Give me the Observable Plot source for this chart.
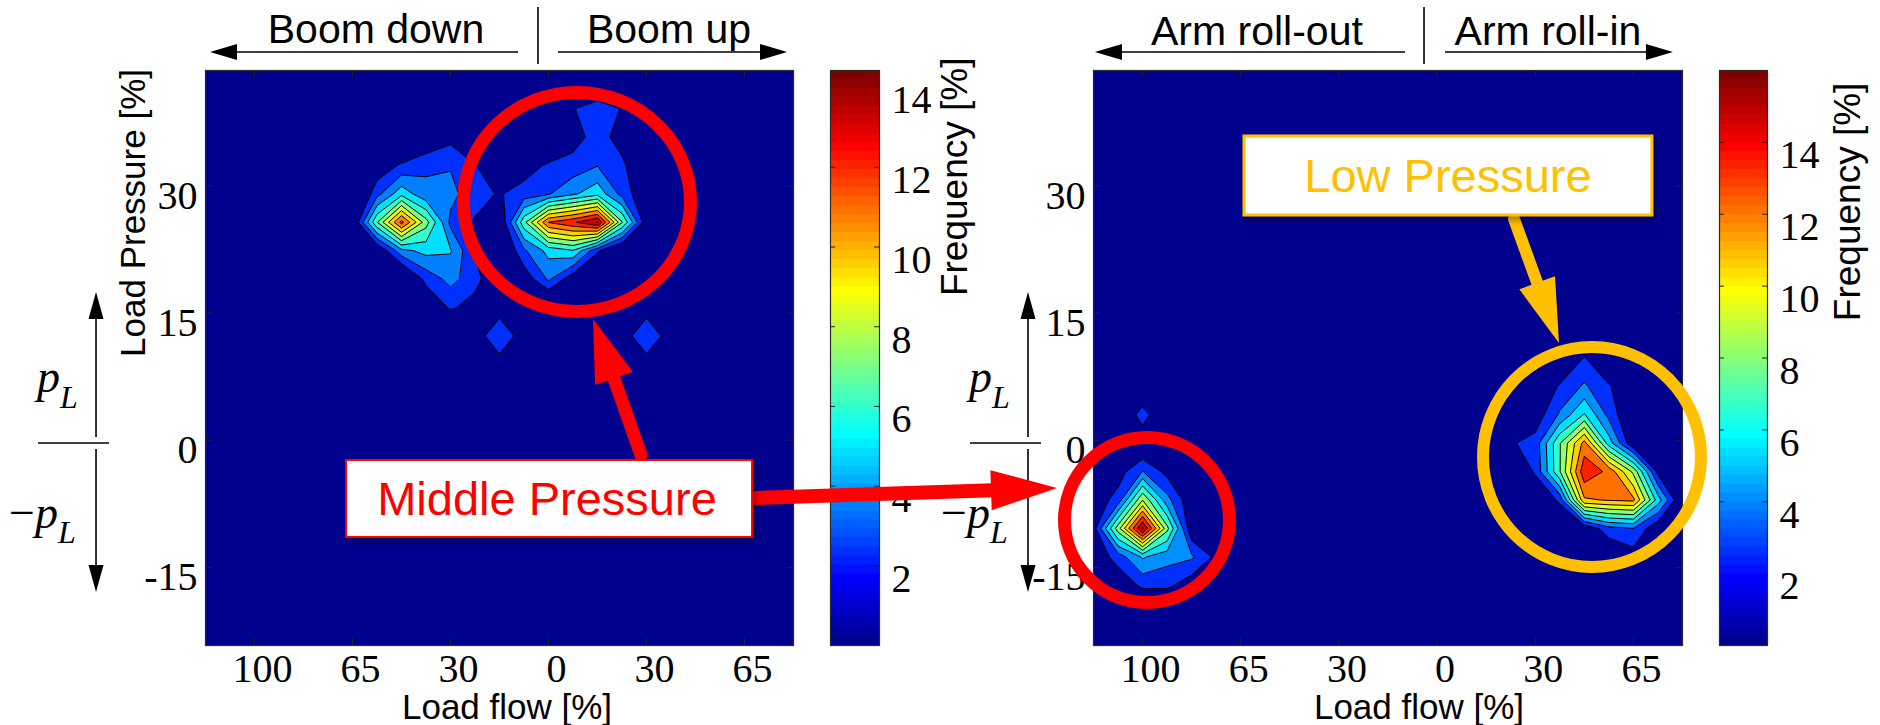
<!DOCTYPE html>
<html>
<head>
<meta charset="utf-8">
<script src="https://cdn.jsdelivr.net/npm/d3@7"></script>
<script src="https://cdn.jsdelivr.net/npm/@observablehq/plot@0.6"></script>
<style>
html, body { margin: 0; padding: 0; background: #ffffff; }
#fig { position: relative; width: 1880px; height: 725px; overflow: hidden; background: #ffffff; }
#fig svg text.tick-serif { font-family: 'Liberation Serif', 'DejaVu Serif', serif !important; }
#fig svg g[aria-label$="tick label"] text { font-family: 'Liberation Serif', 'DejaVu Serif', serif !important; }
</style>
</head>
<body>
<div id="fig"></div>
<script>
// ---------------- data ----------------
const xTickPos = [-3, -2, -1, 0, 1, 2];
const xTickLabels = ["100", "65", "30", "0", "30", "65"];
const yTicks = [30, 15, 0, -15];
const cbTicks = [2, 4, 6, 8, 10, 12, 14];
const xDomain = [-3.5, 2.5];
const yDomain = [-24.2, 43.6];

const leftLevels = [0, 2.4, 3.6, 4.8, 6.0, 7.2, 8.4, 9.6, 10.8, 12.0, 13.2, 14.4];
const rightLevels = [0, 2.67, 4.0, 5.33, 6.67, 8.0, 9.33, 10.67, 12.0, 13.33, 14.67, 16.0];
const leftMax = 14.43;
const rightMax = 16;

const leftGrid = {x0: -3.5, dx: 0.25, nx: 25, y0: 45.8, dy: 3.35, ny: 23};
const rightGrid = {x0: -3.5, dx: 0.25, nx: 25, y0: 46.55, dy: 3.35, ny: 23};

// [load flow, load pressure, frequency %] — grid nodes above zero (boom)
const leftNodes = [
  [0.25, 39.1, 2.3], [0.5, 39.1, 3.33], [0.75, 39.1, 2.3],
  [-1.25, 35.75, 1.0], [-1.0, 35.75, 2.0], [-0.75, 35.75, 1.0], [0, 35.75, 0.5], [0.25, 35.75, 1.8], [0.5, 35.75, 3.0], [0.75, 35.75, 1.8],
  [-1.75, 32.4, 1.5], [-1.5, 32.4, 2.6], [-1.25, 32.4, 3.4], [-1.0, 32.4, 3.5], [-0.75, 32.4, 2.45], [-0.5, 32.4, 1.5], [-0.25, 32.4, 1.8], [0, 32.4, 2.6], [0.25, 32.4, 2.9], [0.5, 32.4, 3.55], [0.75, 32.4, 2.7], [1.0, 32.4, 0.8],
  [-1.75, 29.05, 3.2], [-1.5, 29.05, 5.6], [-1.25, 29.05, 3.9], [-1.0, 29.05, 4.0], [-0.75, 29.05, 2.8], [-0.5, 29.05, 2.3], [-0.25, 29.05, 2.9], [0, 29.05, 3.5], [0.25, 29.05, 4.6], [0.5, 29.05, 5.6], [0.75, 29.05, 3.2], [1.0, 29.05, 1.2],
  [-2.0, 25.7, 0.9], [-1.75, 25.7, 7.1], [-1.5, 25.7, 12.4], [-1.25, 25.7, 7.7], [-1.0, 25.7, 3.3], [-0.75, 25.7, 2.3], [-0.5, 25.7, 1.0], [-0.25, 25.7, 6.8], [0, 25.7, 12.05], [0.25, 25.7, 13.0], [0.5, 25.7, 14.5], [0.75, 25.7, 7.3], [1.0, 25.7, 1.4],
  [-1.75, 22.35, 1.0], [-1.5, 22.35, 4.4], [-1.25, 22.35, 5.2], [-1.0, 22.35, 4.9], [-0.75, 22.35, 2.3], [-0.5, 22.35, 0.5], [-0.25, 22.35, 3.4], [0, 22.35, 5.2], [0.25, 22.35, 5.9], [0.5, 22.35, 2.6], [0.75, 22.35, 0.5],
  [-1.25, 19.0, 2.8], [-1.0, 19.0, 4.0], [-0.75, 19.0, 2.9], [-0.5, 19.0, 1.0], [-0.25, 19.0, 1.5], [0, 19.0, 3.8], [0.25, 19.0, 1.5],
  [-1.25, 15.65, 1.0], [-1.0, 15.65, 2.6], [-0.75, 15.65, 1.8], [-0.5, 15.65, 1.8], [1.0, 15.65, 1.8],
  [-0.75, 12.3, 1.7], [-0.5, 12.3, 3.4], [-0.25, 12.3, 1.7], [0.75, 12.3, 1.7], [1.0, 12.3, 3.4], [1.25, 12.3, 1.7],
  [-0.5, 8.95, 1.8], [1.0, 8.95, 1.8]
];

// arm
const rightNodes = [
  [-3.0, 3.0, 3.7],
  [-3.0, -0.35, 0.9],
  [-3.25, -3.7, 2.0], [-3.0, -3.7, 4.05], [-2.75, -3.7, 2.2],
  [-3.5, -7.05, 1.8], [-3.25, -7.05, 3.2], [-3.0, -7.05, 9.3], [-2.75, -7.05, 4.5], [-2.5, -7.05, 1.5],
  [-3.5, -10.4, 2.0], [-3.25, -10.4, 8.7], [-3.0, -10.4, 16.3], [-2.75, -10.4, 8.4], [-2.5, -10.4, 1.5],
  [-3.5, -13.75, 1.5], [-3.25, -13.75, 3.3], [-3.0, -13.75, 5.5], [-2.75, -13.75, 4.5], [-2.5, -13.75, 4.2], [-2.25, -13.75, 2.3],
  [-3.25, -17.1, 1.5], [-3.0, -17.1, 3.0], [-2.75, -17.1, 3.0], [-2.5, -17.1, 1.8],
  [1.5, 9.7, 2.8],
  [1.0, 6.35, 0.5], [1.25, 6.35, 2.9], [1.5, 6.35, 4.2], [1.75, 6.35, 2.9], [2.0, 6.35, 0.5],
  [1.0, 3.0, 1.8], [1.25, 3.0, 4.2], [1.5, 3.0, 6.8], [1.75, 3.0, 3.6], [2.0, 3.0, 1.0],
  [0.75, -0.35, 2.5], [1.0, -0.35, 3.2], [1.25, -0.35, 7.9], [1.5, -0.35, 12.5], [1.75, -0.35, 6.0], [2.0, -0.35, 1.5],
  [0.75, -3.7, 0.5], [1.0, -3.7, 2.9], [1.25, -3.7, 7.9], [1.5, -3.7, 14.3], [1.75, -3.7, 13.0], [2.0, -3.7, 9.0], [2.25, -3.7, 2.2],
  [1.0, -7.05, 0.8], [1.25, -7.05, 3.0], [1.5, -7.05, 11.8], [1.75, -7.05, 12.1], [2.0, -7.05, 12.3], [2.25, -7.05, 6.0], [2.5, -7.05, 1.0],
  [1.25, -10.4, 0.5], [1.5, -10.4, 1.5], [1.75, -10.4, 3.5], [2.0, -10.4, 3.95], [2.25, -10.4, 1.5],
  [1.75, -13.75, 1.0], [2.0, -13.75, 2.0]
];

// annotation anchors (data coordinates of each panel)
const leftAnn = {
  header: {texts: [["Boom down", -1.755], ["Boom up", 1.235]], y: 45.72, yText: 48.43, sep: -0.102, sepY: [51.03, 44.31],
           arrows: [[-0.306, -3.449], [0.102, 2.439]]},
  pL: {x: -4.612, yTop: 17.42, yUp0: 0.33, yMid: -0.38, yDn0: -1.09, yBot: -17.95},
  circles: [{x: 0.296, y: 28.04, rx: 113.5, ry: 109.5, color: "#ff0000", w: 13}],
  arrows: [{x1: 0.949, y1: -1.8, x2: 0.459, y2: 14.24, color: "#ff0000", w: 13, hl: 63, hw: 40},
           {x1: 2.133, y1: -6.87, x2: 5.194, y2: -5.69, color: "#ff0000", w: 14, hl: 66, hw: 40}],
  box: {x1: -2.061, x2: 2.082, y1: -2.38, y2: -11.46, color: "#ff0000", sw: 2, text: "Middle Pressure", tx: -0.01, ty: -6.93},
  xLabel: {text: "Load flow [%]", x: -0.418, y: -31.5},
  yLabel: {text: "Load Pressure [%]", x: -4.235, y: 26.74}
};
const rightAnn = {
  header: {texts: [["Arm roll-out", -1.83], ["Arm roll-in", 1.135]], y: 45.72, yText: 48.2, sep: -0.128, sepY: [51.03, 44.31],
           arrows: [[-0.322, -3.48], [0.086, 2.408]]},
  pL: {x: -4.162, yTop: 17.42, yUp0: 0.33, yMid: -0.38, yDn0: -1.09, yBot: -17.95},
  circles: [{x: -2.95, y: -9.46, rx: 82.5, ry: 82.5, color: "#ff0000", w: 13},
            {x: 1.583, y: -2.03, rx: 109, ry: 110, color: "#ffc000", w: 12}],
  arrows: [{x1: 0.789, y1: 26.03, x2: 1.247, y2: 11.41, color: "#ffc000", w: 12, hl: 64, hw: 38}],
  box: {x1: -1.962, x2: 2.194, y1: 35.82, y2: 26.5, color: "#ffc000", sw: 3, text: "Low Pressure", tx: 0.116, ty: 31.1},
  xLabel: {text: "Load flow [%]", x: -0.179, y: -31.5},
  yLabel: null
};

// ---------------- helpers ----------------
const SANS = "'Liberation Sans', Arial, sans-serif";
const SERIF = "'Liberation Serif', 'DejaVu Serif', serif";

function jet(t) {
  const k = Math.max(0, Math.min(63, Math.floor(t * 64)));
  const u = (k + 1) / 64;
  const c = (v) => Math.max(0, Math.min(1, v));
  const r = c(1.5 - Math.abs(4 * u - 3));
  const g = c(1.5 - Math.abs(4 * u - 2));
  const b = c(1.5 - Math.abs(4 * u - 1));
  return d3.rgb(r * 255, g * 255, b * 255).formatHex();
}

function buildGrid(nodes, grid) {
  const values = new Float64Array(grid.nx * grid.ny);
  for (const [x, y, v] of nodes) {
    const i = Math.round((x - grid.x0) / grid.dx);
    const j = Math.round((grid.y0 - y) / grid.dy);
    if (i >= 0 && i < grid.nx && j >= 0 && j < grid.ny) values[j * grid.nx + i] = v;
  }
  return values;
}

function arrow(g, X, Y, a, px) {
  const x1 = px ? a.x1 : X(a.x1), y1 = px ? a.y1 : Y(a.y1);
  const x2 = px ? a.x2 : X(a.x2), y2 = px ? a.y2 : Y(a.y2);
  const dx = x2 - x1, dy = y2 - y1, L = Math.hypot(dx, dy);
  const ux = dx / L, uy = dy / L, nx = -uy, ny = ux;
  const bx = x2 - ux * a.hl, by = y2 - uy * a.hl;
  g.append("line").attr("x1", x1).attr("y1", y1).attr("x2", bx + ux * 2).attr("y2", by + uy * 2)
    .attr("stroke", a.color).attr("stroke-width", a.w).attr("stroke-linecap", a.cap || "round");
  g.append("path")
    .attr("d", `M${x2},${y2}L${bx + nx * a.hw / 2},${by + ny * a.hw / 2}L${bx - nx * a.hw / 2},${by - ny * a.hw / 2}Z`)
    .attr("fill", a.color);
}

function sansText(g, x, y, text, size, opts = {}) {
  const t = g.append("text").attr("x", x).attr("y", y).attr("dy", "0.35em")
    .attr("text-anchor", "middle").attr("fill", opts.color || "#000").attr("font-size", size)
    .attr("font-family", SANS).text(text);
  if (opts.rotate) t.attr("transform", `rotate(${opts.rotate},${x},${y})`);
  return t;
}

function annotationMark(ann) {
  return (index, scales) => {
    const X = scales.x, Y = scales.y;
    const g = d3.create("svg:g");
    const h = ann.header;
    for (const [tail, tip] of h.arrows) {
      arrow(g, X, Y, {x1: tail, y1: h.y, x2: tip, y2: h.y, color: "#000", w: 1.6, hl: 27, hw: 16, cap: "butt"});
    }
    g.append("line").attr("x1", X(h.sep)).attr("x2", X(h.sep)).attr("y1", Y(h.sepY[0])).attr("y2", Y(h.sepY[1]))
      .attr("stroke", "#000").attr("stroke-width", 1.6);
    for (const [txt, x] of h.texts) sansText(g, X(x), Y(h.yText), txt, 41);
    sansText(g, X(ann.xLabel.x), Y(ann.xLabel.y), ann.xLabel.text, 35);
    if (ann.yLabel) sansText(g, X(ann.yLabel.x), Y(ann.yLabel.y), ann.yLabel.text, 35, {rotate: -90});
    const p = ann.pL, ax = X(p.x), my = Y(p.yMid);
    arrow(g, X, Y, {x1: ax, y1: Y(p.yUp0), x2: ax, y2: Y(p.yTop), color: "#000", w: 1.6, hl: 27, hw: 15, cap: "butt"}, true);
    arrow(g, X, Y, {x1: ax, y1: Y(p.yDn0), x2: ax, y2: Y(p.yBot), color: "#000", w: 1.6, hl: 27, hw: 15, cap: "butt"}, true);
    g.append("line").attr("x1", ax - 58).attr("x2", ax + 13).attr("y1", my).attr("y2", my)
      .attr("stroke", "#000").attr("stroke-width", 1.6);
    const t1 = g.append("text").attr("class", "tick-serif").attr("x", ax - 59).attr("y", my - 51).attr("text-anchor", "start")
      .attr("font-size", 46).attr("fill", "#000");
    t1.append("tspan").attr("font-style", "italic").text("p");
    t1.append("tspan").attr("font-style", "italic").attr("font-size", 32).attr("dy", 16).text("L");
    const t2 = g.append("text").attr("class", "tick-serif").attr("x", ax - 87).attr("y", my + 85).attr("text-anchor", "start")
      .attr("font-size", 46).attr("fill", "#000");
    t2.append("tspan").text("\u2212");
    t2.append("tspan").attr("font-style", "italic").text("p");
    t2.append("tspan").attr("font-style", "italic").attr("font-size", 32).attr("dy", 15).text("L");
    for (const c of ann.circles) {
      g.append("ellipse").attr("cx", X(c.x)).attr("cy", Y(c.y)).attr("rx", c.rx).attr("ry", c.ry)
        .attr("fill", "none").attr("stroke", c.color).attr("stroke-width", c.w);
    }
    for (const a of ann.arrows) arrow(g, X, Y, a);
    const b = ann.box;
    g.append("rect").attr("x", X(b.x1)).attr("y", Y(b.y1)).attr("width", X(b.x2) - X(b.x1)).attr("height", Y(b.y2) - Y(b.y1))
      .attr("fill", "#fff").attr("stroke", b.color).attr("stroke-width", b.sw)
      .style("filter", "drop-shadow(3px 4px 3px rgba(0,0,0,0.35))");
    sansText(g, X(b.tx), Y(b.ty), b.text, 47, {color: b.color});
    return g.node();
  };
}

function cbLabelMark(label) {
  return (index, scales) => {
    const g = d3.create("svg:g");
    sansText(g, scales.x(label.x), scales.y(label.y), "Frequency [%]", 37, {rotate: -90});
    return g.node();
  };
}

const svgStyle = {position: "absolute", left: "0px", top: "0px", background: "transparent", overflow: "visible", maxWidth: "none"};

function markTicks(svg) {
  d3.select(svg).selectAll('g[aria-label$="tick label"] text').classed("tick-serif", true)
    .attr("font-family", SERIF).style("font-family", SERIF);
  d3.select(svg).selectAll('g[aria-label$="tick label"]').attr("font-family", SERIF);
  return svg;
}

function panel({nodes, grid, levels, cmax, marginLeft, marginRight, ann}) {
  const values = buildGrid(nodes, grid);
  const tlY = 7 * (yDomain[1] - yDomain[0]) / 575;
  const tlX = 7 * (xDomain[1] - xDomain[0]) / 588;
  const marks = [
    Plot.contour(values, {
      width: grid.nx, height: grid.ny,
      x1: grid.x0 - grid.dx / 2, x2: grid.x0 + (grid.nx - 0.5) * grid.dx,
      y1: grid.y0 + grid.dy / 2, y2: grid.y0 - (grid.ny - 0.5) * grid.dy,
      fill: Plot.identity, thresholds: levels, stroke: "#000", strokeWidth: 1, clip: true
    }),
    Plot.frame({stroke: "#2a2a2a", strokeWidth: 1.2}),
    Plot.ruleX(xTickPos, {x: (d) => d, y1: yDomain[0], y2: yDomain[0] + tlY, stroke: "#222"}),
    Plot.ruleX(xTickPos, {x: (d) => d, y1: yDomain[1] - tlY, y2: yDomain[1], stroke: "#222"}),
    Plot.ruleY(yTicks, {y: (d) => d, x1: xDomain[0], x2: xDomain[0] + tlX, stroke: "#222"}),
    Plot.ruleY(yTicks, {y: (d) => d, x1: xDomain[1] - tlX, x2: xDomain[1], stroke: "#222"}),
    Plot.axisX(xTickPos, {anchor: "bottom", tickSize: 0, tickPadding: 8, dx: 8, label: null,
      tickFormat: (d) => xTickLabels[xTickPos.indexOf(d)], fontSize: 40, fontFamily: SERIF, fill: "#000"}),
    Plot.axisY(yTicks, {anchor: "left", tickSize: 0, tickPadding: 8, dy: 10, label: null,
      tickFormat: (d) => String(d), fontSize: 40, fontFamily: SERIF, fill: "#000"}),
    annotationMark(ann)
  ];
  return markTicks(Plot.plot({
    width: 1880, height: 725, marginLeft, marginRight, marginTop: 70, marginBottom: 80,
    x: {domain: xDomain, axis: null},
    y: {domain: yDomain, axis: null},
    color: {type: "linear", domain: [0, cmax], interpolate: jet},
    style: svgStyle,
    marks
  }));
}

function colorbar({cmax, marginLeft, marginRight, label}) {
  const bins = d3.range(64).map((k) => ({y1: k * cmax / 64, y2: (k + 1) * cmax / 64, v: (k + 0.5) * cmax / 64}));
  const tl = 5 / 49;
  return markTicks(Plot.plot({
    width: 1880, height: 725, marginLeft, marginRight, marginTop: 70, marginBottom: 80,
    x: {domain: [0, 1], axis: null},
    y: {domain: [0, cmax], axis: null},
    color: {type: "linear", domain: [0, cmax], interpolate: jet},
    style: svgStyle,
    marks: [
      Plot.rect(bins, {x1: 0, x2: 1, y1: "y1", y2: "y2", fill: "v", stroke: "v", strokeWidth: 0.5, shapeRendering: "crispEdges"}),
      Plot.frame({stroke: "#2a2a2a", strokeWidth: 1.2}),
      Plot.ruleY(cbTicks, {y: (d) => d, x1: 0, x2: tl, stroke: "#222"}),
      Plot.ruleY(cbTicks, {y: (d) => d, x1: 1 - tl, x2: 1, stroke: "#222"}),
      Plot.axisY(cbTicks, {anchor: "right", tickSize: 0, tickPadding: 12, dy: 13, label: null,
        tickFormat: (d) => String(d), fontSize: 40, fontFamily: SERIF, fill: "#000"}),
      cbLabelMark(label)
    ]
  }));
}

// ---------------- render ----------------
const fig = document.getElementById("fig");
fig.append(colorbar({cmax: leftMax, marginLeft: 830, marginRight: 1880 - 879, label: {x: 2.53, y: 11.75}}));
fig.append(colorbar({cmax: rightMax, marginLeft: 1719, marginRight: 1880 - 1767, label: {x: 2.67, y: 12.33}}));
fig.append(panel({nodes: rightNodes, grid: rightGrid, levels: rightLevels, cmax: rightMax, marginLeft: 1093, marginRight: 1880 - 1682, ann: rightAnn}));
fig.append(panel({nodes: leftNodes, grid: leftGrid, levels: leftLevels, cmax: leftMax, marginLeft: 205, marginRight: 1880 - 793, ann: leftAnn}));
</script>
</body>
</html>
